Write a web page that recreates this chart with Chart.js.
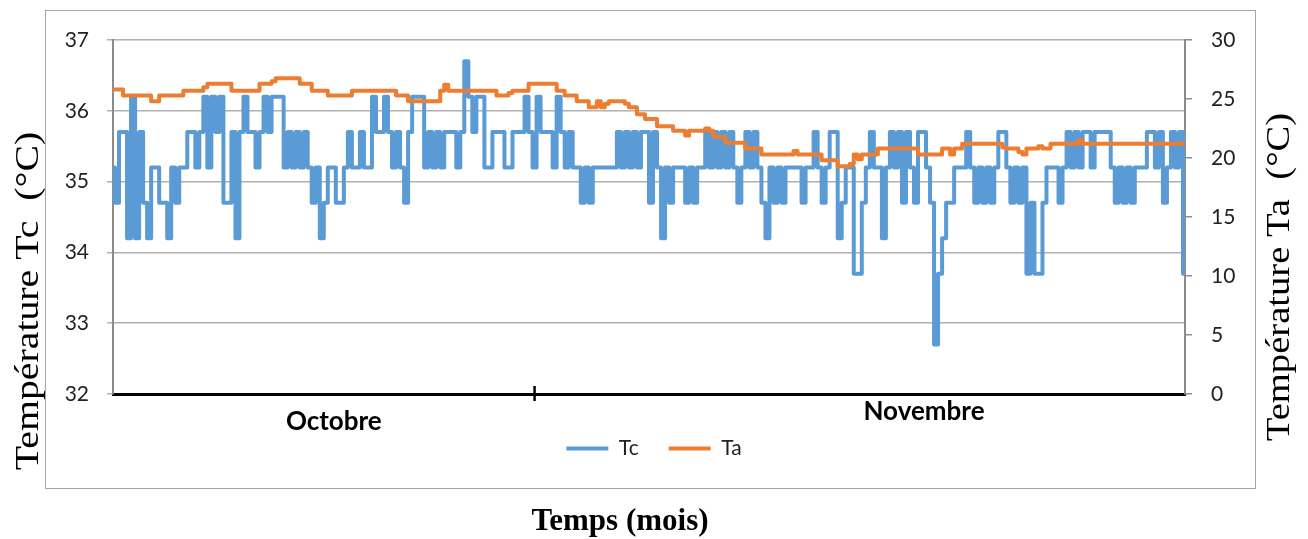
<!DOCTYPE html>
<html>
<head>
<meta charset="utf-8">
<script src="https://cdn.jsdelivr.net/npm/chart.js@4.4.0/dist/chart.umd.min.js"></script>
<style>
  html, body { margin: 0; padding: 0; background: #fff; }
  #cadre { position: relative; width: 1308px; height: 539px; }
</style>
</head>
<body>
<div id="cadre"><canvas id="graphique"></canvas></div>
<script>
// Température Tc (°C), axe gauche
const tc = [
  35.2, 34.7, 35.7, 35.7, 34.2, 36.2, 34.2, 35.7, 34.7, 34.2,
  35.2, 35.2, 34.7, 34.7, 34.2, 35.2, 34.7, 35.2, 35.2, 35.7,
  35.7, 35.2, 35.7, 36.2, 35.2, 36.2, 35.7, 36.2, 34.7, 34.7,
  35.7, 34.2, 35.7, 36.2, 35.7, 35.7, 35.2, 35.7, 36.2, 35.7,
  36.2, 36.2, 36.2, 35.2, 35.7, 35.2, 35.7, 35.2, 35.7, 35.2,
  34.7, 35.2, 34.2, 34.7, 35.2, 35.2, 34.7, 34.7, 35.2, 35.7,
  35.2, 35.2, 35.7, 35.2, 35.2, 36.2, 35.7, 35.7, 36.2, 35.7,
  35.2, 35.7, 35.2, 34.7, 35.7, 36.2, 36.2, 36.2, 35.2, 35.7,
  35.2, 35.7, 35.2, 35.7, 35.7, 35.7, 35.2, 35.7, 36.7, 36.2,
  35.7, 36.2, 36.2, 35.2, 35.2, 35.7, 35.7, 35.7, 35.2, 35.2,
  35.7, 35.7, 35.7, 36.2, 35.7, 35.2, 36.2, 35.7, 35.7, 35.7,
  35.2, 36.2, 35.7, 35.2, 35.7, 35.2, 35.2, 34.7, 35.2, 34.7,
  35.2, 35.2, 35.2, 35.2, 35.2, 35.2, 35.7, 35.2, 35.7, 35.2,
  35.7, 35.2, 35.7, 35.7, 34.7, 35.7, 35.2, 34.2, 35.2, 34.7,
  35.2, 35.2, 35.2, 34.7, 35.2, 34.7, 35.2, 35.2, 35.7, 35.2,
  35.7, 35.2, 35.7, 35.2, 35.7, 35.2, 34.7, 35.2, 35.7, 35.2,
  35.7, 35.2, 34.7, 34.2, 35.2, 34.7, 35.2, 34.7, 35.2, 35.2,
  35.2, 35.2, 34.7, 35.2, 35.2, 35.7, 35.2, 34.7, 35.2, 35.7,
  35.7, 34.2, 34.7, 35.2, 35.2, 33.7, 33.7, 34.7, 35.2, 35.7,
  35.2, 35.2, 34.2, 35.2, 35.7, 35.2, 35.7, 34.7, 35.7, 35.2,
  34.7, 35.7, 35.7, 35.2, 34.7, 32.7, 33.7, 34.2, 34.7, 34.7,
  35.2, 35.2, 35.2, 35.7, 35.2, 34.7, 35.2, 34.7, 35.2, 34.7,
  35.2, 35.7, 35.7, 35.2, 34.7, 35.2, 34.7, 35.2, 33.7, 34.7,
  33.7, 33.7, 34.7, 35.2, 35.2, 35.2, 34.7, 35.2, 35.7, 35.2,
  35.7, 35.2, 35.7, 35.7, 35.2, 35.7, 35.7, 35.7, 35.7, 35.2,
  34.7, 35.2, 34.7, 35.2, 34.7, 35.2, 35.2, 35.2, 35.7, 35.7,
  35.2, 35.7, 34.7, 35.2, 35.7, 35.2, 35.7, 33.7
];

// Température Ta (°C), axe droit
const ta = [
  25.8, 25.8, 25.8, 25.3, 25.3, 25.3, 25.3, 25.3, 25.3, 25.3,
  24.8, 24.8, 25.3, 25.3, 25.3, 25.3, 25.3, 25.3, 25.7, 25.7,
  25.7, 25.7, 25.7, 26.0, 26.3, 26.3, 26.3, 26.3, 26.3, 26.3,
  25.7, 25.7, 25.7, 25.7, 25.7, 25.7, 25.7, 26.3, 26.3, 26.3,
  26.5, 26.75, 26.75, 26.75, 26.75, 26.75, 26.75, 26.3, 26.3, 26.3,
  25.7, 25.7, 25.7, 25.7, 25.3, 25.3, 25.3, 25.3, 25.3, 25.3,
  25.7, 25.7, 25.7, 25.7, 25.7, 25.7, 25.7, 25.7, 25.7, 25.7,
  25.7, 25.3, 25.3, 25.3, 24.8, 24.8, 24.8, 24.8, 24.8, 24.8,
  24.8, 24.8, 25.7, 26.2, 25.7, 25.7, 25.7, 25.7, 25.7, 25.7,
  25.7, 25.7, 25.7, 25.7, 25.7, 25.7, 25.3, 25.3, 25.3, 25.5,
  25.7, 25.7, 25.7, 25.7, 26.3, 26.3, 26.3, 26.3, 26.3, 26.3,
  26.3, 25.7, 25.7, 25.3, 25.3, 25.3, 24.8, 24.8, 24.8, 24.3,
  24.3, 24.8, 24.3, 24.6, 24.8, 24.8, 24.8, 24.8, 24.6, 24.3,
  24.3, 23.7, 23.7, 23.3, 23.3, 23.3, 22.7, 22.7, 22.7, 22.7,
  22.3, 22.3, 22.3, 21.9, 22.3, 22.3, 22.3, 22.3, 22.5, 22.3,
  21.8, 21.8, 21.8, 21.3, 21.3, 21.3, 21.3, 21.3, 20.8, 20.8,
  20.8, 20.8, 20.3, 20.3, 20.3, 20.3, 20.3, 20.3, 20.3, 20.3,
  20.6, 20.3, 20.3, 20.3, 20.3, 20.3, 20.3, 19.8, 19.8, 19.8,
  19.8, 19.3, 19.3, 19.3, 19.5, 20.3, 19.9, 20.3, 20.3, 20.3,
  20.3, 20.8, 20.8, 20.8, 20.8, 20.8, 20.8, 20.8, 20.8, 20.8,
  20.8, 20.3, 20.3, 20.3, 20.3, 20.3, 20.3, 20.8, 20.8, 20.3,
  20.8, 20.8, 21.2, 21.2, 21.2, 21.2, 21.2, 21.2, 21.2, 21.2,
  21.2, 21.2, 20.9, 20.8, 20.8, 20.8, 20.5, 20.3, 20.8, 20.8,
  20.8, 21.0, 20.8, 20.8, 21.2, 21.2, 21.2, 21.2, 21.2, 21.2,
  21.2, 21.5, 21.2, 21.2, 21.2, 21.2, 21.2, 21.2, 21.2, 21.2,
  21.2, 21.2, 21.2, 21.2, 21.2, 21.2, 21.2, 21.2, 21.2, 21.2,
  21.2, 21.2, 21.2, 21.2, 21.2, 21.2, 21.2, 21.2
];

// mois affichés sous l'axe et leur point (indice) de référence
const mois = ['Octobre', 'Novembre'];
const indiceMois = [55, 202];
const indiceSeparation = 105;

const temps = tc.map((_, i) => i);

const bleu = '#5B9BD5';
const orange = '#ED7D31';

function titreVertical(ctx, texte, cx, cy, taille, etirement) {
  ctx.save();
  ctx.translate(cx, cy);
  ctx.rotate(-Math.PI / 2);
  ctx.scale(etirement, 1);
  ctx.font = taille + 'px "Liberation Serif", "Times New Roman", serif';
  ctx.fillStyle = '#000';
  ctx.textAlign = 'center';
  ctx.textBaseline = 'middle';
  ctx.fillText(texte, 0, 0);
  ctx.restore();
}

// cadre, graduation centrale, mois et titres des axes
const habillage = {
  id: 'habillage',
  afterDraw(chart) {
    const ctx = chart.ctx;
    const sx = chart.scales.x;
    const zone = chart.chartArea;
    ctx.save();
    ctx.strokeStyle = '#a6a6a6';
    ctx.lineWidth = 1;
    ctx.strokeRect(45.5, 10.5, 1210, 478);

    const xs = sx.getPixelForValue(indiceSeparation);
    ctx.strokeStyle = '#000';
    ctx.lineWidth = 2.5;
    ctx.beginPath();
    ctx.moveTo(xs, zone.bottom - 8);
    ctx.lineTo(xs, zone.bottom + 7);
    ctx.stroke();

    ctx.fillStyle = '#000';
    ctx.font = 'bold 26px Lato, sans-serif';
    ctx.textAlign = 'center';
    ctx.textBaseline = 'middle';
    ctx.fillText(mois[0], sx.getPixelForValue(indiceMois[0]), zone.bottom + 28);
    ctx.fillText(mois[1], sx.getPixelForValue(indiceMois[1]), zone.bottom + 18);

    ctx.font = 'bold 31px "Liberation Serif", "Times New Roman", serif';
    ctx.fillText('Temps (mois)', 620, 522);
    ctx.restore();

    titreVertical(ctx, 'Température Tc  (°C)', 29, 301, 34, 1.17);
    titreVertical(ctx, 'Température Ta  (°C)', 1280, 277, 33, 1.17);
  }
};

new Chart(document.getElementById('graphique'), {
  type: 'line',
  data: {
    labels: temps,
    datasets: [
      {
        label: 'Tc',
        data: tc,
        yAxisID: 'y',
        borderColor: bleu,
        backgroundColor: bleu,
        borderWidth: 4,
        pointRadius: 0,
        stepped: 'middle',
        borderJoinStyle: 'round',
        order: 1
      },
      {
        label: 'Ta',
        data: ta,
        yAxisID: 'y1',
        borderColor: orange,
        backgroundColor: orange,
        borderWidth: 4,
        pointRadius: 0,
        stepped: 'middle',
        borderJoinStyle: 'round',
        order: 0
      }
    ]
  },
  options: {
    responsive: true,
    maintainAspectRatio: false,
    animation: false,
    layout: { padding: { top: 40, left: 0, right: 0, bottom: 70 } },
    plugins: {
      tooltip: { enabled: false },
      legend: {
        position: 'bottom',
        labels: {
          font: { family: 'Lato', size: 21 },
          color: '#222',
          boxWidth: 42,
          boxHeight: 4,
          padding: 30,
          sort: (a, b) => a.datasetIndex - b.datasetIndex,
          generateLabels(chart) {
            return Chart.defaults.plugins.legend.labels.generateLabels(chart).map(item => {
              item.fillStyle = item.strokeStyle;
              item.lineWidth = 0;
              return item;
            });
          }
        }
      }
    },
    scales: {
      x: {
        type: 'category',
        offset: false,
        grid: { display: false },
        ticks: { display: false },
        border: { display: true, color: '#000', width: 3 },
        afterFit(s) { s.height = 14; }
      },
      y: {
        position: 'left',
        min: 32,
        max: 37,
        ticks: { stepSize: 1, font: { family: 'Lato', size: 21 }, color: '#222', padding: 18 },
        grid: { color: '#b0b0b0', lineWidth: 1.5, tickLength: 6 },
        border: { color: '#8c8c8c', width: 2 },
        afterFit(s) { s.width = 113; }
      },
      y1: {
        position: 'right',
        min: 0,
        max: 30,
        ticks: { stepSize: 5, font: { family: 'Lato', size: 21 }, color: '#222', padding: 19 },
        grid: { drawOnChartArea: false, color: '#8c8c8c', lineWidth: 1.5, tickLength: 7 },
        border: { color: '#8c8c8c', width: 2 },
        afterFit(s) { s.width = 123; }
      }
    }
  },
  plugins: [habillage]
});
</script>
</body>
</html>
